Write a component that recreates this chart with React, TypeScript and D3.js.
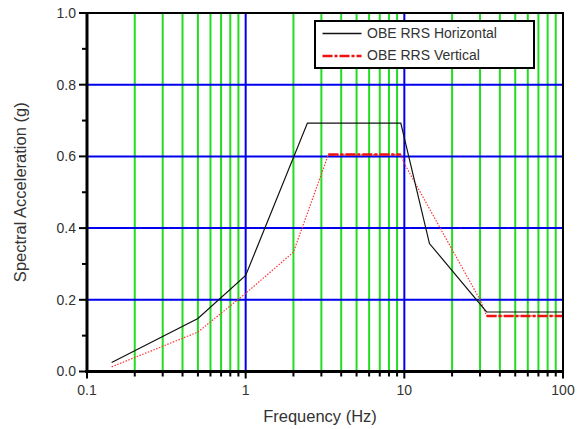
import React from "react";
import * as d3 from "d3";

const horizFreq = [0.143, 0.5, 1, 2.45, 9.5, 14.4, 33, 100];
const horizAcc = [0.025, 0.148, 0.268, 0.693, 0.693, 0.357, 0.166, 0.166];
const vertFreq = [0.143, 0.5, 1, 2, 3.32, 9.5, 10, 30, 33, 100];
const vertAcc = [0.013, 0.11, 0.218, 0.333, 0.605, 0.605, 0.58, 0.2, 0.155, 0.155];
const vertFlatSegments = [[3.32, 9.5], [33, 100]];
const xMajorTicks = [0.1, 1, 10, 100];
const xTickLabels = ["0.1", "1", "10", "100"];
const yMajorTicks = [0, 0.2, 0.4, 0.6, 0.8, 1.0];
const yMinorTicks = [0.1, 0.3, 0.5, 0.7, 0.9];
const legendLabels = ["OBE RRS Horizontal", "OBE RRS Vertical"];

const W = 583, H = 429;
const L = 87, R = 563, T = 13, B = 371.5;
const FONT = "'Liberation Sans', Arial, sans-serif";

export default function App() {
  const x = d3.scaleLog().domain([0.1, 100]).range([L, R]);
  const y = d3.scaleLinear().domain([0, 1]).range([B, T]);
  const minor: number[] = [];
  [0.1, 1, 10].forEach((d) => { for (let k = 2; k <= 9; k++) minor.push(d * k); });
  const line = d3.line<[number, number]>().x((d) => x(d[0])).y((d) => y(d[1]));
  const hPts = horizFreq.map((f, i) => [f, horizAcc[i]] as [number, number]);
  const vPts = vertFreq.map((f, i) => [f, vertAcc[i]] as [number, number]);
  const interpV = (f: number) => {
    for (let i = 0; i < vertFreq.length - 1; i++) {
      if (f >= vertFreq[i] && f <= vertFreq[i + 1]) {
        const t = (Math.log(f) - Math.log(vertFreq[i])) / (Math.log(vertFreq[i + 1]) - Math.log(vertFreq[i]));
        return vertAcc[i] + t * (vertAcc[i + 1] - vertAcc[i]);
      }
    }
    return vertAcc[vertAcc.length - 1];
  };
  const textColor = "#333";
  return (
    <svg width={W} height={H} style={{ position: "absolute", left: 0, top: 0, background: "#fff" }}>
      <rect x={0} y={0} width={W} height={H} fill="#fff" />
      {minor.map((m) => (
        <line key={"g" + m} x1={x(m)} x2={x(m)} y1={T} y2={B} stroke="#22dd22" strokeWidth={2} />
      ))}
      {[1, 10].map((m) => (
        <line key={"bx" + m} x1={x(m)} x2={x(m)} y1={T} y2={B} stroke="#0000ee" strokeWidth={2} />
      ))}
      {[0.2, 0.4, 0.6, 0.8].map((v) => (
        <line key={"by" + v} x1={L} x2={R} y1={y(v)} y2={y(v)} stroke="#0000ee" strokeWidth={2} />
      ))}
      <path d={line(vPts) || ""} fill="none" stroke="#ff3333" strokeWidth={1.2} strokeDasharray="1.5,1.5" />
      {vertFlatSegments.map(([a, b], i) => (
        <line key={"vs" + i} x1={x(a)} x2={x(b)} y1={y(interpV(a))} y2={y(interpV(b))}
          stroke="#ee1111" strokeWidth={2.5} strokeDasharray="10,2,3,2" />
      ))}
      <path d={line(hPts) || ""} fill="none" stroke="#111" strokeWidth={1.2} />
      {/* frame */}
      <rect x={L} y={T} width={R - L} height={B - T} fill="none" stroke="#000" strokeWidth={2} />
      <line x1={L} x2={L} y1={T - 1} y2={B + 1.5} stroke="#000" strokeWidth={3} />
      <line x1={L - 1.5} x2={R + 1} y1={B} y2={B} stroke="#000" strokeWidth={3} />
      {/* y ticks */}
      {yMajorTicks.map((v) => (
        <g key={"yt" + v}>
          <line x1={L - 8} x2={L} y1={y(v)} y2={y(v)} stroke="#000" strokeWidth={2} />
          <text x={L - 11} y={y(v)} dy="0.35em" textAnchor="end" fontFamily={FONT} fontSize={14} fill={textColor}>
            {v.toFixed(1)}
          </text>
        </g>
      ))}
      {yMinorTicks.map((v) => (
        <line key={"ym" + v} x1={L - 5} x2={L} y1={y(v)} y2={y(v)} stroke="#000" strokeWidth={2} />
      ))}
      {/* x ticks */}
      {xMajorTicks.map((v, i) => (
        <g key={"xt" + v}>
          <line x1={x(v)} x2={x(v)} y1={B} y2={B + 7} stroke="#000" strokeWidth={2} />
          <text x={x(v)} y={B + 19} dy="0.35em" textAnchor="middle" fontFamily={FONT} fontSize={14} fill={textColor}>
            {xTickLabels[i]}
          </text>
        </g>
      ))}
      {minor.map((m) => (
        <line key={"xm" + m} x1={x(m)} x2={x(m)} y1={B} y2={B + 5} stroke="#000" strokeWidth={2} />
      ))}
      <text x={320} y={416} dy="0.35em" textAnchor="middle" fontFamily={FONT} fontSize={16.5} fill={textColor}>
        Frequency (Hz)
      </text>
      <text transform={`translate(20,${(T + B) / 2}) rotate(-90)`} dy="0.35em" textAnchor="middle" fontFamily={FONT} fontSize={16.5} fill={textColor}>
        Spectral Acceleration (g)
      </text>
      {/* legend */}
      <rect x={315} y={21} width={219} height={47} fill="#fff" stroke="#000" strokeWidth={2} />
      <line x1={322.5} x2={361.5} y1={33.5} y2={33.5} stroke="#111" strokeWidth={1.5} />
      <line x1={322.5} x2={361.5} y1={56} y2={56} stroke="#ee1111" strokeWidth={2.5} strokeDasharray="10,2,3,2" />
      <text x={367} y={33.5} dy="0.35em" fontFamily={FONT} fontSize={14} fill={textColor}>{legendLabels[0]}</text>
      <text x={367} y={55.5} dy="0.35em" fontFamily={FONT} fontSize={14} fill={textColor}>{legendLabels[1]}</text>
    </svg>
  );
}
